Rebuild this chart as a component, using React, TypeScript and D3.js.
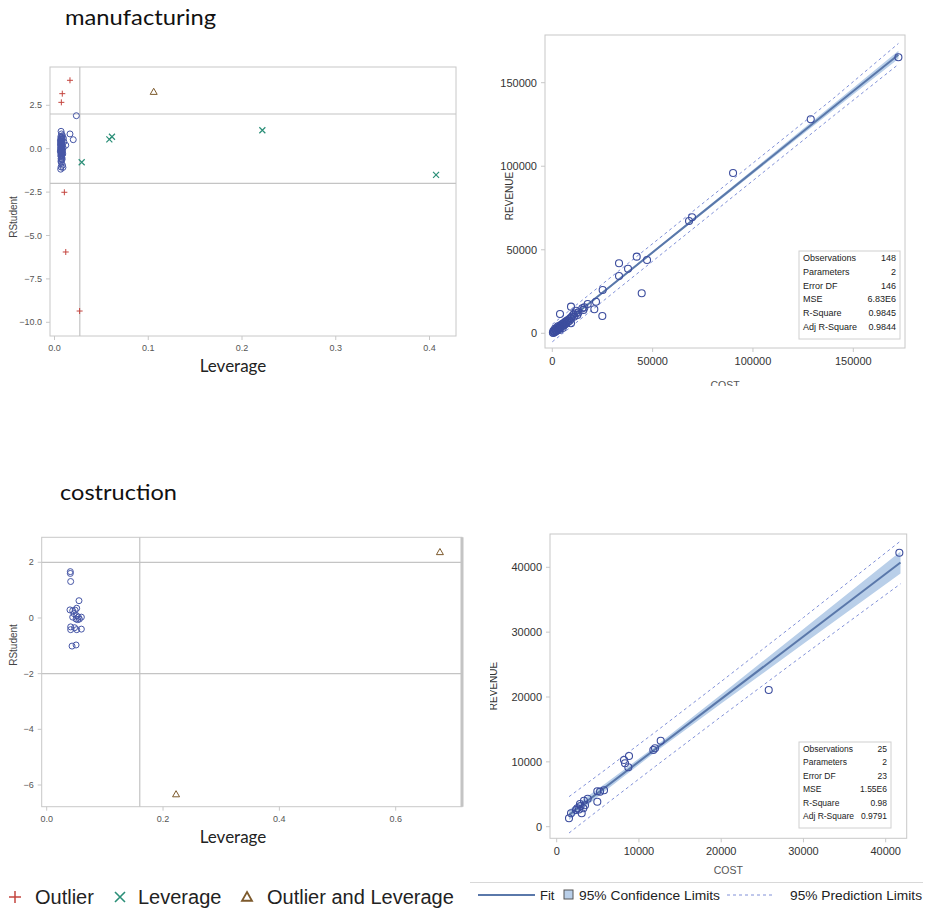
import React from "react";
import * as d3 from "d3";

// ---------- Manufacturing: RStudent vs Leverage ----------
const mfgNormLev = [0.0070,0.0075,0.0068,0.0072,0.0080,0.0066,0.0074,0.0070,0.0077,0.0069,0.0073,0.0081,0.0067,0.0071,0.0076,0.0070,0.0068,0.0074,0.0079,0.0072,0.0066,0.0070,0.0075,0.0069,0.0073,0.0078,0.0071,0.0067,0.0074,0.0070,0.0076,0.0068,0.0072,0.0080,0.0069,0.0073,0.0071,0.0075,0.0067,0.0072,0.0078,0.0070,0.0074,0.0069,0.0073,0.0085,0.0070,0.0066,0.0090,0.0233,0.0165,0.0200,0.0120,0.0095,0.0100,0.0088,0.0092,0.0085,0.0064,0.0063,0.0082,0.0077,0.0079,0.0065,0.0084,0.0086];
const mfgNormRs = [1.00,0.85,0.70,0.62,0.58,0.55,0.50,0.46,0.42,0.38,0.35,0.32,0.30,0.27,0.24,0.21,0.18,0.15,0.12,0.10,0.08,0.05,0.03,0.01,-0.01,-0.03,-0.05,-0.07,-0.09,-0.12,-0.14,-0.17,-0.20,-0.22,-0.25,-0.28,-0.32,-0.36,-0.40,-0.45,-0.50,-0.58,-0.65,-0.72,-0.80,-0.95,-1.05,-1.18,-1.08,1.90,0.85,0.52,0.20,0.60,0.40,-0.30,0.05,0.75,0.45,-0.15,-0.60,0.66,-0.38,0.25,0.18,-0.12];
const mfgOutLev = [0.0165,0.0083,0.0073,0.0105,0.0120,0.0268];
const mfgOutRs = [3.94,3.17,2.67,-2.51,-5.95,-9.35];
const mfgLevLev = [0.0290,0.0585,0.0613,0.2217,0.4070];
const mfgLevRs = [-0.78,0.54,0.69,1.06,-1.51];
const mfgBothLev = [0.1058];
const mfgBothRs = [3.28];
const mfgLevCut = 0.027;
const mfgXTicks = [0, 0.1, 0.2, 0.3, 0.4];
const mfgYTicks = [2.5, 0, -2.5, -5, -7.5, -10];

// ---------- Manufacturing: REVENUE vs COST ----------
const mfgCost = [300,500,800,1000,1200,1500,1800,2000,2200,2500,2700,3000,3200,3500,3800,4000,4300,4600,5000,5300,5600,6000,6300,6600,7000,7400,7800,8200,8600,9000,9300,9800,10500,11000,11800,600,1400,2800,3600,5200,12500,13000,15500,16000,3840,9320,9320,11810,14960,17630,21780,20940,24930,25100,33250,33250,37740,42070,47210,44560,68140,69640,90080,128800,172480];
const mfgRevenue = [500,200,900,1300,700,1800,1200,2500,1600,3000,2200,3400,2600,4000,3100,4600,3600,5200,4300,5800,4700,6300,5200,7000,6000,7600,6800,8300,7500,9200,8600,10000,11200,10000,12000,1500,2800,4200,2000,3200,11000,12500,14000,15500,11570,15960,5990,13530,14970,17540,18920,14370,10360,25930,41920,34310,38680,45870,43890,23950,67250,69460,95990,128140,165270];
const mfgFitX = [0, 172500];
const mfgFitY = [200, 166700];
const mfgBandX = [0, 20000, 60000, 100000, 140000, 172500];
const mfgClmLo = [-500, 18900, 57400, 95500, 133500, 164300];
const mfgClmHi = [900, 20100, 58800, 97900, 137100, 169100];
const mfgPlmLo = [-5100, 14200, 52800, 91400, 130000, 161000];
const mfgPlmHi = [5400, 24700, 63300, 101900, 140500, 173500];
const mfgStatLabels = ["Observations","Parameters","Error DF","MSE","R-Square","Adj R-Square"];
const mfgStatValues = ["148","2","146","6.83E6","0.9845","0.9844"];
const mfgCostTicks = [0, 50000, 100000, 150000];
const mfgRevTicks = [0, 50000, 100000, 150000];

// ---------- Construction: RStudent vs Leverage ----------
const conNormLev = [0.0406,0.0406,0.0412,0.0555,0.0400,0.0447,0.0516,0.0470,0.0516,0.0545,0.0596,0.0505,0.0533,0.0447,0.0412,0.0412,0.0480,0.0516,0.0596,0.0436,0.0505,0.0490,0.0562];
const conNormRs = [1.665,1.60,1.31,0.62,0.29,0.26,0.35,0.155,0.08,0.03,0.03,-0.04,-0.06,0.03,-0.32,-0.42,-0.35,-0.42,-0.40,-1.01,-0.97,0.28,-0.04];
const conBothLev = [0.676, 0.2224];
const conBothRs = [2.37, -6.33];
const conLevCut = 0.16;
const conXTicks = [0, 0.2, 0.4, 0.6];
const conYTicks = [2, 0, -2, -4, -6];

// ---------- Construction: REVENUE vs COST ----------
const conCost = [1496,1739,2505,2833,2900,3040,3235,3441,3770,4937,4937,5265,5752,8184,8306,8792,8707,11747,11953,12646,25779,41660,2347,3316,2700];
const conRevenue = [1295,2066,2837,3500,3192,2066,2837,3300,4318,3855,5459,5407,5613,10285,9776,10902,9160,11827,12089,13261,21079,42250,2575,4009,2650];
const conFitX = [1500, 41800];
const conFitY = [1830, 40750];
const conBandX = [1500, 6000, 12000, 20000, 30000, 41800];
const conClmLo = [1030, 5620, 11510, 18990, 28200, 39050];
const conClmHi = [2630, 6720, 12410, 20390, 30500, 42450];
const conPlmLo = [-970, 3470, 9310, 16990, 26450, 37450];
const conPlmHi = [4630, 8870, 14610, 22390, 32250, 44050];
const conStatLabels = ["Observations","Parameters","Error DF","MSE","R-Square","Adj R-Square"];
const conStatValues = ["25","2","23","1.55E6","0.98","0.9791"];
const conCostTicks = [0, 10000, 20000, 30000, 40000];
const conRevTicks = [0, 10000, 20000, 30000, 40000];

// ---------- Legends ----------
const diagLegend = ["Outlier", "Leverage", "Outlier and Leverage"];
const fitLegend = ["Fit", "95% Confidence Limits", "95% Prediction Limits"];

const C_CIRCLE = "#4656a6";
const C_OUT = "#c4453f";
const C_LEV = "#2b8f78";
const C_BOTH = "#7d5a2c";
const C_FRAME = "#c8c8c8";
const C_REF = "#c4c4c4";
const C_FIT = "#5a78aa";
const C_CLM = "#b9cfe9";
const C_PLM = "#8090d8";
const TICKFONT = "'Liberation Sans', Arial, sans-serif";
const LABFONT = "Lato, 'Open Sans', sans-serif";

type Frame = { l: number; r: number; t: number; b: number };

function Plus({ x, y, s = 3, c = C_OUT, w = 1 }: any) {
  return <path d={`M${x - s},${y}H${x + s}M${x},${y - s}V${y + s}`} stroke={c} strokeWidth={w} fill="none" />;
}
function Cross({ x, y, s = 3, c = C_LEV, w = 1.2 }: any) {
  return <path d={`M${x - s},${y - s}L${x + s},${y + s}M${x - s},${y + s}L${x + s},${y - s}`} stroke={c} strokeWidth={w} fill="none" />;
}
function Tri({ x, y, s = 3.5, c = C_BOTH, w = 1 }: any) {
  return <path d={`M${x},${y - s}L${x + s},${y + s * 0.75}L${x - s},${y + s * 0.75}Z`} stroke={c} strokeWidth={w} fill="none" />;
}

function Frame({ f, thickRight = false }: { f: Frame; thickRight?: boolean }) {
  return (
    <g>
      <rect x={f.l} y={f.t} width={f.r - f.l} height={f.b - f.t} fill="white" stroke={C_FRAME} strokeWidth={1} />
      {thickRight && <line x1={f.r} x2={f.r} y1={f.t} y2={f.b} stroke="#c4c4c4" strokeWidth={3} />}
    </g>
  );
}

function XAxis({ f, sx, ticks, fmt, size, color, dy }: any) {
  return (
    <g>
      {ticks.map((t: number) => (
        <g key={t}>
          <line x1={sx(t)} x2={sx(t)} y1={f.b} y2={f.b + 4} stroke={C_FRAME} />
          <text x={sx(t)} y={f.b + dy} textAnchor="middle" fontFamily={TICKFONT} fontSize={size} fill={color}>{fmt(t)}</text>
        </g>
      ))}
    </g>
  );
}
function YAxis({ f, sy, ticks, fmt, size, color, dx }: any) {
  return (
    <g>
      {ticks.map((t: number) => (
        <g key={t}>
          <line x1={f.l - 4} x2={f.l} y1={sy(t)} y2={sy(t)} stroke={C_FRAME} />
          <text x={f.l - dx} y={sy(t)} dy="0.35em" textAnchor="end" fontFamily={TICKFONT} fontSize={size} fill={color}>{fmt(t)}</text>
        </g>
      ))}
    </g>
  );
}

function DiagPanel(props: any) {
  const { f, sx, sy, xTicks, yTicks, yFmt, cut, normLev, normRs, outLev, outRs, levLev, levRs, bothLev, bothRs, thickRight, ylabY } = props;
  return (
    <g>
      <Frame f={f} thickRight={thickRight} />
      <line x1={f.l} x2={f.r} y1={sy(2)} y2={sy(2)} stroke={C_REF} strokeWidth={1.2} />
      <line x1={f.l} x2={f.r} y1={sy(-2)} y2={sy(-2)} stroke={C_REF} strokeWidth={1.2} />
      <line x1={sx(cut)} x2={sx(cut)} y1={f.t} y2={f.b} stroke={C_REF} strokeWidth={1.2} />
      <XAxis f={f} sx={sx} ticks={xTicks} fmt={d3.format(".1f")} size={9} color="#555" dy={15} />
      <YAxis f={f} sy={sy} ticks={yTicks} fmt={yFmt} size={9} color="#555" dx={8} />
      {normLev.map((v: number, i: number) => (
        <circle key={"n" + i} cx={sx(v)} cy={sy(normRs[i])} r={3} fill="none" stroke={C_CIRCLE} strokeWidth={1} />
      ))}
      {outLev.map((v: number, i: number) => <Plus key={"o" + i} x={sx(v)} y={sy(outRs[i])} />)}
      {levLev.map((v: number, i: number) => <Cross key={"l" + i} x={sx(v)} y={sy(levRs[i])} />)}
      {bothLev.map((v: number, i: number) => <Tri key={"b" + i} x={sx(v)} y={sy(bothRs[i])} />)}
      <text transform={`translate(17,${ylabY}) rotate(-90)`} textAnchor="middle" fontFamily={TICKFONT} fontSize={10} fill="#444">RStudent</text>
      <text x={233} y={f.b + 36} textAnchor="middle" fontFamily={LABFONT} fontSize={17} fill="#222">Leverage</text>
    </g>
  );
}

function FitPanel(props: any) {
  const { f, sx, sy, xTicks, yTicks, cost, rev, fitX, fitY, bandX, clmLo, clmHi, plmLo, plmHi, statL, statV, box, r, labX, labY, costY, clipId, clip } = props;
  const area = d3.area<number>().x((d, i) => sx(bandX[i])).y0((d, i) => sy(clmLo[i])).y1((d, i) => sy(clmHi[i]));
  const lineLo = d3.line<number>().x((d, i) => sx(bandX[i])).y((d) => sy(d));
  const fit = d3.line<number>().x((d, i) => sx(fitX[i])).y((d) => sy(d));
  const fmt = d3.format("d");
  return (
    <g clipPath={`url(#${clipId})`}>
      <defs>
        <clipPath id={clipId}><rect x={clip.x} y={clip.y} width={clip.w} height={clip.h} /></clipPath>
        <clipPath id={clipId + "f"}><rect x={f.l} y={f.t} width={f.r - f.l} height={f.b - f.t} /></clipPath>
      </defs>
      <Frame f={f} />
      <g clipPath={`url(#${clipId}f)`}>
        <path d={area(bandX) || ""} fill={C_CLM} stroke="none" />
        <path d={fit(fitY) || ""} stroke={C_FIT} strokeWidth={2} fill="none" />
        <path d={lineLo(plmLo) || ""} stroke={C_PLM} strokeWidth={1} strokeDasharray="3,3" fill="none" />
        <path d={lineLo(plmHi) || ""} stroke={C_PLM} strokeWidth={1} strokeDasharray="3,3" fill="none" />
        {cost.map((c: number, i: number) => (
          <circle key={i} cx={sx(c)} cy={sy(rev[i])} r={r} fill="none" stroke="#3c4d9e" strokeWidth={1.1} />
        ))}
      </g>
      <XAxis f={f} sx={sx} ticks={xTicks} fmt={fmt} size={11} color="#333" dy={17} />
      <YAxis f={f} sy={sy} ticks={yTicks} fmt={fmt} size={11} color="#333" dx={8} />
      <text transform={`translate(${labX},${labY}) rotate(-90)`} textAnchor="middle" fontFamily={TICKFONT} fontSize={10} fill="#333">REVENUE</text>
      <text x={(f.l + f.r) / 2} y={costY} textAnchor="middle" fontFamily={TICKFONT} fontSize={10.5} fill="#555">COST</text>
      <rect x={box.x} y={box.y} width={box.w} height={box.h} fill="white" stroke="#d0d0d0" />
      {statL.map((s: string, i: number) => (
        <g key={s}>
          <text x={box.x + 4} y={box.y + 10 + i * box.rh} fontFamily={TICKFONT} fontSize={box.fs} fill="#222">{s}</text>
          <text x={box.x + box.w - 4} y={box.y + 10 + i * box.rh} textAnchor="end" fontFamily={TICKFONT} fontSize={box.fs} fill="#222">{statV[i]}</text>
        </g>
      ))}
    </g>
  );
}

export default function App() {
  const f1: Frame = { l: 50, r: 456, t: 67, b: 336 };
  const p1x = d3.scaleLinear().domain([0, 0.4]).range([54.5, 429.5]);
  const p1y = d3.scaleLinear().domain([0, -10]).range([148.7, 322.3]);
  const f2: Frame = { l: 545, r: 905, t: 35, b: 348 };
  const p2x = d3.scaleLinear().domain([0, 150000]).range([552.3, 853.3]);
  const p2y = d3.scaleLinear().domain([0, 150000]).range([333.3, 82.7]);
  const f3: Frame = { l: 41.7, r: 462, t: 537.3, b: 806.7 };
  const p3x = d3.scaleLinear().domain([0, 0.6]).range([46.7, 395.7]);
  const p3y = d3.scaleLinear().domain([2, -6]).range([562.3, 785]);
  const f4: Frame = { l: 550, r: 906.7, t: 534, b: 838.3 };
  const p4x = d3.scaleLinear().domain([0, 40000]).range([556.7, 885.7]);
  const p4y = d3.scaleLinear().domain([0, 40000]).range([826.7, 567.3]);

  const legY = 897;
  return (
    <svg width={929} height={908} style={{ position: "absolute", left: 0, top: 0, background: "white" }}>
      <rect width={929} height={908} fill="white" />
      <text x={65} y={25} fontFamily={LABFONT} fontSize={22} fill="#111" textLength={151} lengthAdjust="spacingAndGlyphs">manufacturing</text>
      <text x={60} y={500} fontFamily={LABFONT} fontSize={22} fill="#111" textLength={117} lengthAdjust="spacingAndGlyphs">costruction</text>

      <DiagPanel f={f1} sx={p1x} sy={p1y} xTicks={mfgXTicks} yTicks={mfgYTicks} yFmt={d3.format(".1f")} cut={mfgLevCut}
        normLev={mfgNormLev} normRs={mfgNormRs} outLev={mfgOutLev} outRs={mfgOutRs} levLev={mfgLevLev} levRs={mfgLevRs}
        bothLev={mfgBothLev} bothRs={mfgBothRs} ylabY={217} />
      <DiagPanel f={f3} sx={p3x} sy={p3y} xTicks={conXTicks} yTicks={conYTicks} yFmt={d3.format("d")} cut={conLevCut}
        normLev={conNormLev} normRs={conNormRs} outLev={[]} outRs={[]} levLev={[]} levRs={[]}
        bothLev={conBothLev} bothRs={conBothRs} thickRight ylabY={645} />

      <FitPanel f={f2} sx={p2x} sy={p2y} xTicks={mfgCostTicks} yTicks={mfgRevTicks} cost={mfgCost} rev={mfgRevenue}
        fitX={mfgFitX} fitY={mfgFitY} bandX={mfgBandX} clmLo={mfgClmLo} clmHi={mfgClmHi} plmLo={mfgPlmLo} plmHi={mfgPlmHi}
        statL={mfgStatLabels} statV={mfgStatValues} box={{ x: 799, y: 251, w: 101, h: 88, rh: 13.8, fs: 9 }} r={3.5}
        labX={513} labY={196} costY={389} clipId="c2" clip={{ x: 490, y: 0, w: 439, h: 386 }} />
      <FitPanel f={f4} sx={p4x} sy={p4y} xTicks={conCostTicks} yTicks={conRevTicks} cost={conCost} rev={conRevenue}
        fitX={conFitX} fitY={conFitY} bandX={conBandX} clmLo={conClmLo} clmHi={conClmHi} plmLo={conPlmLo} plmHi={conPlmHi}
        statL={conStatLabels} statV={conStatValues} box={{ x: 799, y: 742, w: 92, h: 86, rh: 13.4, fs: 8.5 }} r={3.5}
        labX={497} labY={686} costY={874} clipId="c4" clip={{ x: 490, y: 500, w: 439, h: 380 }} />

      <line x1={470} x2={923} y1={882.5} y2={882.5} stroke="#d8d8d8" strokeWidth={1.2} />

      {/* diagnostics legend */}
      <Plus x={15} y={legY} s={6} c={C_OUT} w={1.5} />
      <text x={35} y={legY + 7} fontFamily={TICKFONT} fontSize={20} fill="#222">{diagLegend[0]}</text>
      <Cross x={120} y={legY} s={5} c={C_LEV} w={1.6} />
      <text x={138} y={legY + 7} fontFamily={TICKFONT} fontSize={20} fill="#222">{diagLegend[1]}</text>
      <Tri x={247} y={legY} s={5} c={C_BOTH} w={1.8} />
      <text x={267} y={legY + 7} fontFamily={TICKFONT} fontSize={20} fill="#222">{diagLegend[2]}</text>

      {/* fit legend */}
      <line x1={478} x2={535} y1={895} y2={895} stroke={C_FIT} strokeWidth={2} />
      <text x={540} y={899.5} fontFamily={TICKFONT} fontSize={13} fill="#222">{fitLegend[0]}</text>
      <rect x={564} y={890} width={9} height={9} fill={C_CLM} stroke="#555" strokeWidth={1} />
      <text x={579} y={899.5} fontFamily={TICKFONT} fontSize={13} fill="#222" textLength={141} lengthAdjust="spacingAndGlyphs">{fitLegend[1]}</text>
      <line x1={727} x2={775} y1={895} y2={895} stroke={C_PLM} strokeWidth={1} strokeDasharray="3,3" />
      <text x={790} y={899.5} fontFamily={TICKFONT} fontSize={13} fill="#222" textLength={132} lengthAdjust="spacingAndGlyphs">{fitLegend[2]}</text>
    </svg>
  );
}
